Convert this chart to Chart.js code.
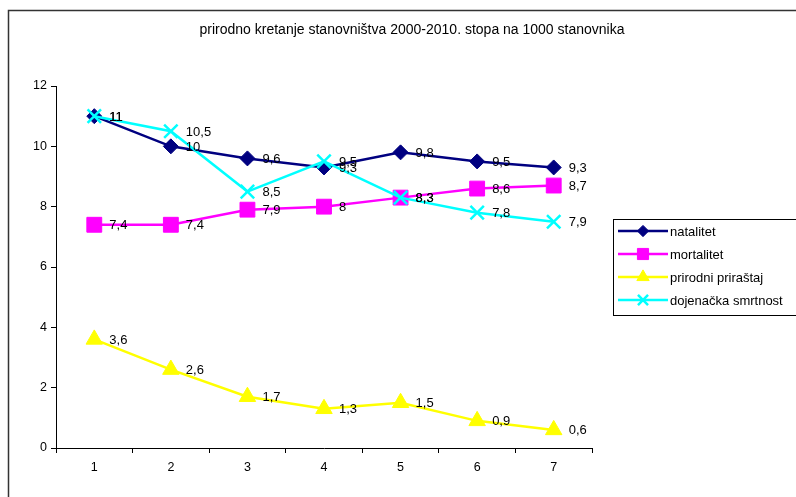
<!DOCTYPE html>
<html>
<head>
<meta charset="utf-8">
<script src="https://cdn.jsdelivr.net/npm/chart.js@4.4.0/dist/chart.umd.min.js"></script>
<style>
  html, body { margin: 0; padding: 0; background: #fff; }
  #wrap { position: relative; width: 796px; height: 497px; }
</style>
</head>
<body>
<div id="wrap"><canvas id="grafika" width="796" height="497"></canvas></div>
<script>
// podaci s grafikona
const naslov = 'prirodno kretanje stanovništva 2000-2010. stopa na 1000 stanovnika';
const kategorije = ['1', '2', '3', '4', '5', '6', '7'];
const natalitet = [11, 10, 9.6, 9.3, 9.8, 9.5, 9.3];
const mortalitet = [7.4, 7.4, 7.9, 8, 8.3, 8.6, 8.7];
const prirodniPrirastaj = [3.6, 2.6, 1.7, 1.3, 1.5, 0.9, 0.6];
const dojenackaSmrtnost = [11, 10.5, 8.5, 9.5, 8.3, 7.8, 7.5];
// oznake kako pisu na slici (zadnja oznaka ne odgovara tocki)
const dojenackaOznake = ['11', '10,5', '8,5', '9,5', '8,3', '7,8', '7,9'];
const yTicks = [0, 2, 4, 6, 8, 10, 12];

const FONT = '"Liberation Sans", Arial, sans-serif';

function formatBroj(v) {
    return String(v).replace('.', ',');
}

// okvir, naslov, oznake vrijednosti i legenda
const crtanjePlugin = {
    id: 'crtanje',
    beforeDraw(chart) {
        const ctx = chart.ctx;
        ctx.save();
        ctx.strokeStyle = '#333';
        ctx.lineWidth = 1.5;
        ctx.strokeRect(8.5, 10.5, 1000, 1000);
        ctx.fillStyle = '#000';
        ctx.font = '14px ' + FONT;
        ctx.textAlign = 'center';
        ctx.textBaseline = 'middle';
        ctx.fillText(naslov, 412, 30);
        ctx.restore();
    },
    afterDatasetsDraw(chart) {
        const ctx = chart.ctx;
        ctx.save();
        ctx.fillStyle = '#000';
        ctx.font = '13px ' + FONT;
        ctx.textAlign = 'left';
        ctx.textBaseline = 'middle';
        chart.data.datasets.forEach((ds, i) => {
            const meta = chart.getDatasetMeta(i);
            meta.data.forEach((pt, j) => {
                const txt = ds.oznake ? ds.oznake[j] : formatBroj(ds.data[j]);
                ctx.fillText(txt, pt.x + 15, pt.y + 1);
            });
        });

        // legenda
        const lx = 613, ly = 219, lw = 183, lh = 96;
        ctx.fillStyle = '#fff';
        ctx.fillRect(lx, ly, lw, lh);
        ctx.strokeStyle = '#000';
        ctx.lineWidth = 1;
        ctx.strokeRect(lx + 0.5, ly + 0.5, lw, lh);
        chart.data.datasets.forEach((ds, i) => {
            const y = 231 + i * 23;
            ctx.strokeStyle = ds.borderColor;
            ctx.lineWidth = 2.5;
            ctx.beginPath();
            ctx.moveTo(618, y);
            ctx.lineTo(668, y);
            ctx.stroke();
            ctx.fillStyle = ds.pointBackgroundColor;
            ctx.strokeStyle = ds.pointBorderColor;
            ctx.lineWidth = ds.pointBorderWidth;
            Chart.helpers.drawPoint(ctx, {
                pointStyle: ds.pointStyle,
                radius: ds.pointRadius * 0.75,
                borderWidth: ds.pointBorderWidth,
                rotation: 0
            }, 643, y);
            ctx.fillStyle = '#000';
            ctx.font = '13px ' + FONT;
            ctx.fillText(ds.label, 670, y + 1);
        });
        ctx.restore();
    }
};

new Chart(document.getElementById('grafika'), {
    type: 'line',
    data: {
        labels: kategorije,
        datasets: [
            {
                label: 'natalitet',
                data: natalitet,
                borderColor: '#000080',
                backgroundColor: '#000080',
                pointBackgroundColor: '#000080',
                pointBorderColor: '#000080',
                pointBorderWidth: 1,
                pointStyle: 'rectRot',
                pointRadius: 7.5,
                borderWidth: 2.5,
                order: 4
            },
            {
                label: 'mortalitet',
                data: mortalitet,
                borderColor: '#FF00FF',
                backgroundColor: '#FF00FF',
                pointBackgroundColor: '#FF00FF',
                pointBorderColor: '#FF00FF',
                pointBorderWidth: 1,
                pointStyle: 'rect',
                pointRadius: 10.5,
                borderWidth: 2.5,
                order: 3
            },
            {
                label: 'prirodni priraštaj',
                data: prirodniPrirastaj,
                borderColor: '#FFFF00',
                backgroundColor: '#FFFF00',
                pointBackgroundColor: '#FFFF00',
                pointBorderColor: '#FFFF00',
                pointBorderWidth: 1,
                pointStyle: 'triangle',
                pointRadius: 9.5,
                borderWidth: 2.5,
                order: 2
            },
            {
                label: 'dojenačka smrtnost',
                data: dojenackaSmrtnost,
                oznake: dojenackaOznake,
                borderColor: '#00FFFF',
                backgroundColor: '#00FFFF',
                pointBackgroundColor: '#00FFFF',
                pointBorderColor: '#00FFFF',
                pointBorderWidth: 2.5,
                pointStyle: 'crossRot',
                pointRadius: 9.5,
                borderWidth: 2.5,
                order: 1
            }
        ]
    },
    options: {
        responsive: false,
        animation: false,
        layout: { padding: { left: 0, top: 86, right: 204, bottom: 19 } },
        plugins: {
            legend: { display: false },
            title: { display: false },
            tooltip: { enabled: false }
        },
        scales: {
            x: {
                offset: true,
                grid: { offset: true, drawOnChartArea: false, drawTicks: true, tickLength: 5, color: '#000' },
                border: { display: true, color: '#000', width: 1 },
                ticks: { color: '#000', font: { family: FONT, size: 12.5 }, padding: 7, maxRotation: 0 },
                afterFit: s => { s.height = 30; }
            },
            y: {
                min: 0,
                max: 12,
                afterBuildTicks: s => { s.ticks = yTicks.map(v => ({ value: v })); },
                grid: { drawOnChartArea: false, drawTicks: true, tickLength: 5, color: '#000' },
                border: { display: true, color: '#000', width: 1 },
                ticks: { color: '#000', font: { family: FONT, size: 12.5 }, padding: 4 },
                afterFit: s => { s.width = 56; }
            }
        }
    },
    plugins: [crtanjePlugin]
});
</script>
</body>
</html>
